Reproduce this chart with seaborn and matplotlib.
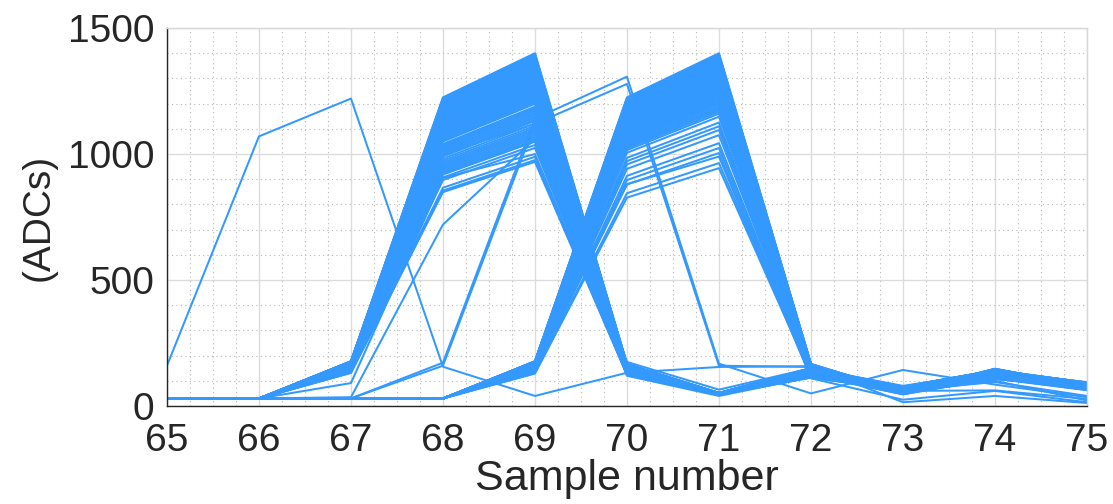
import numpy as np
import pandas as pd
import matplotlib
matplotlib.use("Agg")
import matplotlib.pyplot as plt
from matplotlib.ticker import MultipleLocator
import seaborn as sns

# Sample indices of the digitised waveforms
samples = [65, 66, 67, 68, 69, 70, 71, 72, 73, 74, 75]
pedestal = 30

# Normalised pulse shapes (fraction of peak height above pedestal)
shape_early = [0.0, 0.0, 0.108, 0.872, 1.0, 0.100, 0.016, 0.088, 0.034, 0.082, 0.046]
shape_late = [0.0, 0.0, 0.0, 0.0, 0.108, 0.872, 1.0, 0.100, 0.018, 0.086, 0.036]

# Peak heights (ADC) of pulses peaking at sample 69
peaks_early = [1400, 1397, 1393, 1390, 1386, 1381, 1377, 1374, 1369, 1365, 1361, 1356,
               1352, 1348, 1343, 1339, 1334, 1330, 1325, 1321, 1316, 1311, 1306, 1302,
               1297, 1292, 1287, 1281, 1276, 1271, 1266, 1260, 1255, 1249, 1244, 1238,
               1233, 1227, 1222, 1216, 1210, 1205, 1199, 1188, 1182, 1176, 1170, 1163,
               1157, 1150, 1144, 1137, 1131, 1121, 1112, 1104, 1097, 1090, 1083, 1076,
               1069, 1062, 1055, 1049, 1036, 1024, 989, 976, 969]

# Peak heights (ADC) of pulses peaking at sample 71
peaks_late = [1400, 1396, 1393, 1389, 1385, 1381, 1376, 1372, 1368, 1364, 1359, 1355,
              1350, 1346, 1341, 1337, 1332, 1327, 1322, 1318, 1313, 1308, 1303, 1298,
              1293, 1288, 1283, 1278, 1272, 1267, 1262, 1256, 1251, 1245, 1240, 1234,
              1229, 1223, 1217, 1211, 1206, 1200, 1194, 1187, 1181, 1175, 1168, 1160,
              1148, 1125, 1110, 1095, 1075, 1043, 1024, 1004, 964, 944]

# Individual irregular waveforms
odd_1 = [160, 1070, 1220, 156, 40, 132, 155, 158, 15, 40, 12]
odd_2 = [30, 30, 30, 172, 1140, 1307, 168, 50, 143, 85, 35]
odd_3 = [30, 30, 30, 160, 1120, 1278, 160, 155, 60, 62, 28]
odd_4 = [30, 30, 91, 905, 1000, 128, 45, 125, 55, 100, 22]
odd_5 = [30, 30, 35, 720, 1060, 120, 40, 115, 62, 95, 40]
odd_6 = [30, 30, 30, 30, 150, 880, 990, 110, 25, 60, 15]
odd_7 = [30, 30, 160, 1000, 1120, 175, 65, 150, 80, 135, 95]

rows = []
wf = 0
for shape, peaks in ((shape_early, peaks_early), (shape_late, peaks_late)):
    for pk in peaks:
        for s, f in zip(samples, shape):
            rows.append((wf, s, pedestal + f * (pk - pedestal)))
        wf += 1
for trace in (odd_1, odd_2, odd_3, odd_4, odd_5, odd_6, odd_7):
    for s, v in zip(samples, trace):
        rows.append((wf, s, v))
    wf += 1
df = pd.DataFrame(rows, columns=["waveform", "sample", "adc"])

sns.set_style("white")
plt.rcParams["font.family"] = ["Liberation Sans", "DejaVu Sans"]

text_col = "#262626"
fig = plt.figure(figsize=(11.13, 5.04), dpi=100)
ax = fig.add_axes([0.1500, 0.1944, 0.8266, 0.7500])

sns.lineplot(data=df, x="sample", y="adc", units="waveform", estimator=None,
             color="#3399ff", linewidth=1.45, ax=ax, legend=False)

ax.set_xlim(65, 75)
ax.set_ylim(0, 1500)
ax.xaxis.set_major_locator(MultipleLocator(1))
ax.xaxis.set_minor_locator(MultipleLocator(0.25))
ax.yaxis.set_major_locator(MultipleLocator(500))
ax.yaxis.set_minor_locator(MultipleLocator(100))

ax.set_axisbelow(True)
ax.grid(which="major", color="#dcdcdc", linewidth=1.0, linestyle="-")
ax.grid(which="minor", color="#b8b8b8", linewidth=0.8, linestyle=(0, (1, 3)))

ax.tick_params(which="major", direction="in", length=7, width=1, colors=text_col,
               labelsize=28, top=False, right=False)
ax.tick_params(axis="y", which="major", pad=9)
ax.tick_params(axis="x", which="major", pad=12)
ax.tick_params(which="minor", length=0)

for side in ("left", "bottom"):
    ax.spines[side].set_color(text_col)
    ax.spines[side].set_linewidth(1.0)
for side in ("top", "right"):
    ax.spines[side].set_color("#d6d6d6")
    ax.spines[side].set_linewidth(1.0)

ax.set_xlabel("Sample number", fontsize=31, color=text_col, labelpad=0)
ax.set_ylabel("(ADCs)", fontsize=28, color=text_col, labelpad=8)

fig.savefig("out.png", dpi=100)
